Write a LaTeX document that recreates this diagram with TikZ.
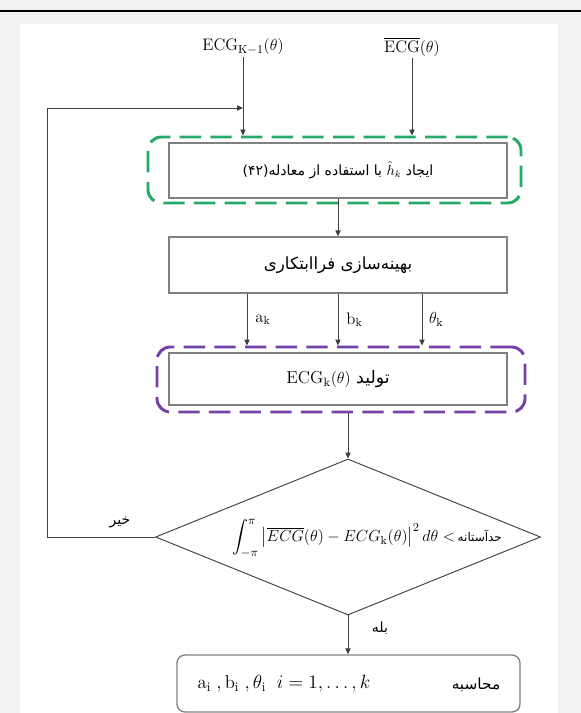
\documentclass[tikz,border=0pt]{standalone}
\usepackage{amsmath}
\usepackage{fontspec}
\newfontfamily\arabicfont[Script=Arabic]{DejaVu Sans}
\TeXXeTstate=1
\usetikzlibrary{arrows.meta,shapes.geometric}
\definecolor{bggray}{RGB}{242,242,242}
\definecolor{boxgray}{RGB}{128,128,128}
\definecolor{linegray}{RGB}{64,64,64}
\definecolor{dgreen}{RGB}{38,170,105}
\definecolor{dpurple}{RGB}{118,64,168}
\tikzset{
  arr/.style={draw=linegray, line width=0.7pt, -{Triangle[length=4.5pt,width=4pt]}},
  procbox/.style={draw=boxgray, line width=1pt, fill=white, rectangle, inner sep=0pt,
    minimum width=253.5pt, font=\fontsize{10.5}{12}\selectfont},
  dashbox/.style={rectangle, rounded corners=10pt, line width=2.2pt,
    dash pattern=on 16pt off 7pt, inner sep=0pt},
  lbl/.style={inner sep=1pt, font=\fontsize{12.5}{14}\selectfont},
  persian/.style={inner sep=1pt, font=\fontsize{10.5}{12}\selectfont}
}
\begin{document}
\begin{tikzpicture}[x=0.75pt,y=-0.75pt]
\useasboundingbox (0,0) rectangle (581,713);
\fill[bggray] (0,0) rectangle (581,713);
\fill[white] (20,24) rectangle (558,713);
\draw[black, line width=1.6pt] (0,11) -- (581,11);

% inputs
\node[lbl] (in1) at (243,47) {$\mathrm{ECG}_{\mathrm{K-1}}(\theta)$};
\node[lbl] (in2) at (412,47) {$\overline{\mathrm{ECG}}(\theta)$};

% green group
\node[dashbox, draw=dgreen, minimum width=279.75pt, minimum height=49.5pt] (grn) at (334.5,170) {};
\node[procbox, minimum height=41.25pt] (b1) at (338,170.5)
  {\arabicfont\beginR ایجاد $\hat{h}_k$ با استفاده از معادله(۴۲)\endR};

% optimisation box
\node[procbox, minimum height=42pt, font=\fontsize{12.5}{14}\selectfont] (b2) at (338,265)
  {\arabicfont\beginR بهینه‌سازی فراابتکاری\endR};

% purple group
\node[dashbox, draw=dpurple, minimum width=276pt, minimum height=48.75pt] (pur) at (341,379.5) {};
\node[procbox, minimum height=39pt, font=\fontsize{13}{15}\selectfont] (b3) at (338,379)
  {\arabicfont\beginR تولید $\mathrm{ECG}_{\mathrm{k}}(\theta)$\endR};

% decision
\node[diamond, draw=linegray, line width=0.7pt, fill=white, minimum width=288.75pt,
  minimum height=117pt, inner sep=0pt] (dia) at (348,537) {};
\node[inner sep=0pt, font=\fontsize{12.5}{14}\selectfont] (dtxt) at (367,538)
  {$\displaystyle\int_{-\pi}^{\pi}\left|\overline{ECG}(\theta)-ECG_{\mathrm{k}}(\theta)\right|^{2}d\theta<$\,{\arabicfont\fontsize{9}{10}\selectfont\beginR حدآستانه\endR}};

% result box
\node[draw=boxgray, line width=1pt, rounded corners=6pt, fill=white, rectangle,
  minimum width=257.25pt, minimum height=42.75pt, inner sep=0pt] (bb) at (348.5,683.5) {};
\node[lbl, font=\fontsize{14}{16}\selectfont] (bbl) at (284,684) {$\mathrm{a_i}\;,\mathrm{b_i}\;,\theta_{\mathrm{i}}\;\;i=1,\dots,k$};
\node[persian, font=\fontsize{11.5}{13}\selectfont] (bbr) at (476,685) {\arabicfont\beginR محاسبه\endR};

% helper coordinates
\coordinate (xa) at (247,0);
\coordinate (xc) at (422,0);
\coordinate (fb) at (47,108);

% connectors
\draw[arr] (in1) -- (in1 |- grn.north);
\draw[arr] (in2) -- (in2 |- grn.north);
\draw[arr] (dia.west) -| (fb) -- (fb -| in1);
\draw[arr] (b1) -- (b2);
\draw[arr] (b2.south -| xa) -- (pur.north -| xa) node[lbl, midway, right=5pt] {$\mathrm{a_k}$};
\draw[arr] (b2.south) -- (pur.north -| b2) node[lbl, midway, right=5pt] {$\mathrm{b_k}$};
\draw[arr] (b2.south -| xc) -- (pur.north -| xc) node[lbl, midway, right=4pt] {$\theta_{\mathrm{k}}$};
\draw[arr] (pur.south -| dia.north) -- (dia.north);
\draw[arr] (dia.south) -- (bb.north -| dia.south);

% branch labels
\node[persian] (no) at (120,522) {\arabicfont\beginR خیر\endR};
\node[persian] (yes) at (380,628) {\arabicfont\beginR بله\endR};
\end{tikzpicture}
\end{document}
